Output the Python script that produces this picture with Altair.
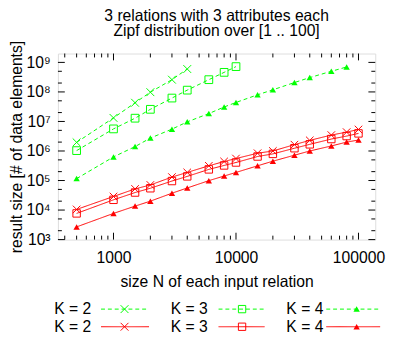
import altair as alt
import pandas as pd

# ---------------- data ----------------
N_ALL = [500, 1000, 1500, 2000, 3000, 4000, 6000, 8000, 10000,
         15000, 20000, 30000, 40000, 60000, 80000, 100000]

G2 = [1.96e6, 1.32e7, 4.3e7, 9.8e7, 2.6e8, 5.97e8]
G3 = [1.03e6, 5.6e6, 1.29e7, 2.58e7, 6.2e7, 1.15e8, 2.6e8, 4.6e8, 7.2e8]
G4 = [1.16e5, 6.3e5, 1.41e6, 2.74e6, 5.5e6, 9.7e6, 1.85e7, 3.09e7, 4.4e7,
      8.0e7, 1.18e8, 2.08e8, 3.06e8, 5.0e8, 7.0e8]
R2 = [1.05e4, 2.88e4, 5.2e4, 7.08e4, 1.31e5, 1.88e5, 3.15e5, 4.41e5, 5.56e5,
      8.4e5, 1.0e6, 1.64e6, 2.29e6, 3.46e6, 4.36e6, 5.36e6]
R3 = [7.7e3, 2.22e4, 3.92e4, 5.47e4, 9.6e4, 1.38e5, 2.38e5, 3.24e5, 4.08e5,
      6.5e5, 7.97e5, 1.24e6, 1.68e6, 2.54e6, 3.2e6, 3.94e6]
R4 = [2.69e3, 7.7e3, 1.36e4, 2.0e4, 3.72e4, 5.6e4, 9.9e4, 1.42e5, 1.88e5,
      3.15e5, 4.52e5, 7.2e5, 1.0e6, 1.48e6, 2.0e6, 2.35e6]

SERIES_KEYS = ["g2", "g3", "g4", "r2", "r3", "r4"]
SERIES_VALUES = [G2, G3, G4, R2, R3, R4]
LEGEND_LABELS = ["K = 2", "K = 3", "K = 4", "K = 2", "K = 3", "K = 4"]

X_MAJOR = [1000, 10000, 100000]
X_LABELS = ["1000", "10000", "100000"]
Y_MAJOR = [1e3, 1e4, 1e5, 1e6, 1e7, 1e8, 1e9]
Y_LABELS = ["10³", "10⁴", "10⁵", "10⁶", "10⁷", "10⁸", "10⁹"]

TITLE = ["3 relations with 3 attributes each", "Zipf distribution over [1 .. 100]"]
X_TITLE = "size N of each input relation"
Y_TITLE = "result size [# of data elements]"

# ---------------- styles / layout ----------------
FONT = "Liberation Sans"
FS = 16
W, H = 324, 190
X_DOMAIN = [352, 137000]
Y_DOMAIN = [1000, 2e9]
GREEN, RED = "#00ff00", "#ff0000"
COLORS = [GREEN] * 3 + [RED] * 3
DASHES = [[4, 3]] * 3 + [[1, 0]] * 3
XPATH = "M-1,-1L1,1M-1,1L1,-1"
SHAPES = [XPATH, "square", "triangle-up"] * 2
SIZES = [64, 56, 42] * 2
MAJ, MIN = 7, 4
Y_MINOR_MULT = [2, 5]

rows = []
for key, vals in zip(SERIES_KEYS, SERIES_VALUES):
    for n, v in zip(N_ALL, vals):
        rows.append({"series": key, "N": n, "size": v})
df = pd.DataFrame(rows)

xs = alt.Scale(type="log", domain=X_DOMAIN)
ys = alt.Scale(type="log", domain=Y_DOMAIN)

label_map = "{" + ",".join(f"'{int(v)}':'{l}'" for v, l in zip(Y_MAJOR, Y_LABELS)) + "}"
xlabel_map = "{" + ",".join(f"'{v}':'{l}'" for v, l in zip(X_MAJOR, X_LABELS)) + "}"

x_axis = alt.Axis(values=X_MAJOR, labelExpr=f"{xlabel_map}[''+round(datum.value)]",
                  labelFont=FONT, labelFontSize=FS, labelColor="black",
                  ticks=False, tickSize=0, domain=False, grid=False,
                  labelPadding=10, labelFlush=False, labelOverlap=False,
                  title=X_TITLE, titleFont=FONT, titleFontSize=FS,
                  titleFontWeight="normal", titleColor="black",
                  titleX=W / 2, titleY=43, titleBaseline="middle", titleAlign="center")
y_axis = alt.Axis(values=Y_MAJOR, labelExpr=f"{label_map}[''+round(datum.value)]",
                  labelFont=FONT, labelFontSize=FS, labelColor="black",
                  ticks=False, tickSize=0, domain=False, grid=False,
                  labelPadding=8, labelFlush=False, labelOverlap=False,
                  title=Y_TITLE, titleFont=FONT, titleFontSize=FS,
                  titleFontWeight="normal", titleColor="black",
                  titleX=-42, titleY=H / 2, titleAngle=270,
                  titleBaseline="middle", titleAlign="center")


def X(field):
    return alt.X(field, scale=xs, axis=x_axis)


def Y(field):
    return alt.Y(field, scale=ys, axis=y_axis)


color_scale = alt.Scale(domain=SERIES_KEYS, range=COLORS)
color_enc = alt.Color("series:N", scale=color_scale, legend=None)

lines = alt.Chart(df).mark_line(strokeWidth=1, clip=True).encode(
    x=X("N:Q"), y=Y("size:Q"),
    color=color_enc,
    strokeDash=alt.StrokeDash("series:N", scale=alt.Scale(domain=SERIES_KEYS, range=DASHES), legend=None),
    detail="series:N",
)

open_pts = alt.Chart(df).transform_filter(
    alt.FieldOneOfPredicate(field="series", oneOf=["g2", "g3", "r2", "r3"])
).mark_point(filled=False, strokeWidth=1, opacity=1, strokeOpacity=1, fill=None).encode(
    x=X("N:Q"), y=Y("size:Q"),
    stroke=alt.Stroke("series:N", scale=color_scale, legend=None),
    shape=alt.Shape("series:N", scale=alt.Scale(domain=SERIES_KEYS, range=SHAPES), legend=None),
    size=alt.Size("series:N", scale=alt.Scale(domain=SERIES_KEYS, range=SIZES), legend=None),
)

tri_pts = alt.Chart(df).transform_filter(
    alt.FieldOneOfPredicate(field="series", oneOf=["g4", "r4"])
).mark_point(filled=True, shape="triangle-up", size=42, opacity=1).encode(
    x=X("N:Q"), y=Y("size:Q"),
    color=color_enc,
)

# ---------------- inward tick marks ----------------
x_minor = [m * 10 ** k for k in (2, 3, 4, 5) for m in range(2, 10)
           if X_DOMAIN[0] < m * 10 ** k < X_DOMAIN[1]]
y_minor = [m * 10 ** k for k in range(3, 10) for m in Y_MINOR_MULT
           if Y_DOMAIN[0] < m * 10 ** k < Y_DOMAIN[1]]

tick_layers = []
for vals, ln in ((X_MAJOR, MAJ), (x_minor, MIN)):
    base = alt.Chart(pd.DataFrame({"N": vals})).mark_rule(color="black", strokeWidth=1)
    tick_layers.append(base.encode(x=X("N:Q"), y=alt.value(H), y2=alt.value(H - ln)))
    tick_layers.append(base.encode(x=X("N:Q"), y=alt.value(0), y2=alt.value(ln)))
for vals, ln in ((Y_MAJOR, MAJ), (y_minor, MIN)):
    base = alt.Chart(pd.DataFrame({"size": vals})).mark_rule(color="black", strokeWidth=1)
    tick_layers.append(base.encode(y=Y("size:Q"), x=alt.value(0), x2=alt.value(ln)))
    tick_layers.append(base.encode(y=Y("size:Q"), x=alt.value(W), x2=alt.value(W - ln)))

# ---------------- hand-made key (gnuplot style) ----------------
LEG_ROW_Y = [261, 279]
LEG_TEXT_X = [34, 153, 271]
LEG_LINE_X = [(44, 93), (164, 211), (274, 329)]
LEG_MARK_X = [68, 188, 305]

leg_layers = []
one = pd.DataFrame({"a": [0]})
for i, key in enumerate(SERIES_KEYS):
    r, c = divmod(i, 3)
    yy = LEG_ROW_Y[r]
    leg_layers.append(alt.Chart(one).mark_text(
        text=LEGEND_LABELS[i], font=FONT, fontSize=FS, align="right",
        baseline="middle", color="black").encode(
        x=alt.value(LEG_TEXT_X[c]), y=alt.value(yy)))
    leg_layers.append(alt.Chart(one).mark_rule(
        color=COLORS[i], strokeWidth=1, strokeDash=DASHES[i]).encode(
        x=alt.value(LEG_LINE_X[c][0]), x2=alt.value(LEG_LINE_X[c][1]), y=alt.value(yy)))
    filled = SHAPES[i] == "triangle-up"
    leg_layers.append(alt.Chart(one).mark_point(
        shape=SHAPES[i], size=SIZES[i], filled=filled, color=COLORS[i],
        strokeWidth=1, opacity=1).encode(
        x=alt.value(LEG_MARK_X[c]), y=alt.value(yy)))

chart = alt.layer(lines, open_pts, tri_pts, *tick_layers, *leg_layers).properties(
    width=W, height=H,
    title=alt.TitleParams(TITLE, font=FONT, fontSize=FS, fontWeight="normal",
                          color="black", anchor="middle", frame="group",
                          offset=1, lineHeight=16),
    autosize=alt.AutoSizeParams(type="none"),
    padding={"left": 51, "top": 43, "right": 12, "bottom": 96},
).configure_view(stroke="black", strokeWidth=1).configure(background="white")

chart.save("out.html", embed_options={"renderer": "svg", "actions": False})
